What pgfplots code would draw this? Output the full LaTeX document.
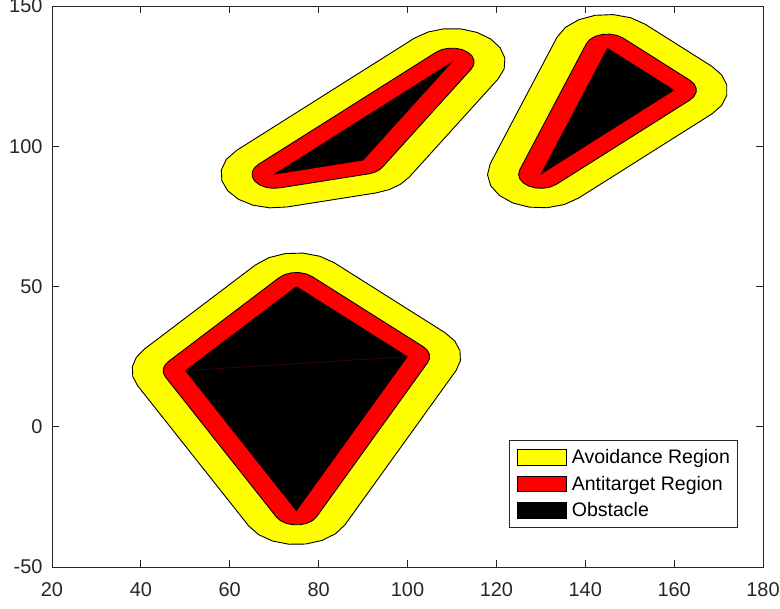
\documentclass[border=0pt]{standalone}
\usepackage{pgfplots}
\pgfplotsset{compat=1.18}
\usepackage{fontspec}
\setmainfont{Liberation Sans}
\definecolor{axisgray}{RGB}{38,38,38}
\definecolor{seamred}{RGB}{110,0,0}
\definecolor{avoidyellow}{RGB}{255,255,0}
\definecolor{antired}{RGB}{255,0,0}

\begin{document}
\begin{tikzpicture}
\begin{axis}[
  name=ax,
  scale only axis,
  width=711bp, height=561bp,
  xmin=20, xmax=180, ymin=-50, ymax=150,
  xtick={20,40,60,80,100,120,140,160,180},
  ytick={-50,0,50,100,150},
  xticklabels={20,40,60,80,100,120,140,160,180},
  yticklabels={-50,0,50,100,150},
  tick align=inside,
  xtick pos=both, ytick pos=both,
  major tick length=7bp,
  axis line style={axisgray, line width=0.8bp},
  every tick/.style={axisgray, line width=0.8bp},
  tick label style={font=\fontsize{20}{23}\selectfont, text=axisgray},
  xticklabel style={yshift=-12.5bp},
  yticklabel style={xshift=-6bp},
  legend image code/.code={\draw[#1] (0bp,-8bp) rectangle (49bp,7.7bp);},
  legend cell align=left,
  legend style={
    at={(0.6428,0.2264)}, anchor=north west,
    draw=axisgray, line width=0.8bp, fill=white,
    font=\fontsize{19.6}{22}\selectfont, text=black,
    inner xsep=7.5bp, inner ysep=8.7bp,
    row sep=10bp, column sep=5bp,
    nodes={inner sep=0bp},
  },
]
% lower obstacle: avoidance band (offset 12), antitarget band (offset 5), core
\addplot[fill=avoidyellow, draw=black, line width=0.9bp] coordinates {
  (110.92,20.03)(111.91,23.52)(111.81,27.14)(110.63,30.57)(108.49,33.49)
  (83.49,58.49)(80.25,60.79)(76.45,61.91)(72.48,61.73)(68.79,60.27)(65.78,57.68)
  (40.78,27.68)(38.97,24.73)(38.08,21.38)(38.18,17.92)(39.27,14.63)
  (64.27,-35.37)(66.51,-38.49)(69.63,-40.73)(73.30,-41.88)(77.14,-41.81)
  (80.77,-40.52)(83.79,-38.16)(85.92,-34.97)
} --cycle;
\addlegendentry{Avoidance Region}
\addplot[fill=antired, draw=black, line width=0.9bp] coordinates {
  (104.55,22.93)(104.96,24.38)(104.92,25.89)(104.43,27.32)(103.54,28.54)
  (78.54,53.54)(77.19,54.50)(75.60,54.96)(73.95,54.89)(72.41,54.28)(71.16,53.20)
  (46.16,23.20)(45.41,21.97)(45.03,20.58)(45.08,19.13)(45.53,17.76)
  (70.53,-32.24)(71.46,-33.54)(72.76,-34.47)(74.29,-34.95)(75.89,-34.92)
  (77.40,-34.39)(78.66,-33.40)(79.55,-32.07)
} --cycle;
\addlegendentry{Antitarget Region}
\addplot[fill=black, draw=black, line width=0.3bp] coordinates {
  (75,-30)(100,25)(75,50)(50,20)
} --cycle;
\addlegendentry{Obstacle}
\addplot[forget plot, draw=seamred, line width=0.4bp] coordinates {(50,20)(100,25)};

% upper-left obstacle
\addplot[forget plot, fill=avoidyellow, draw=black, line width=0.9bp] coordinates {
  (92.91,83.36)(95.90,84.55)(98.46,86.49)(100.42,89.05)
  (120.42,124.05)(121.76,127.62)(121.91,131.44)(120.86,135.10)(118.71,138.26)
  (115.67,140.57)(112.07,141.82)(108.25,141.87)(104.61,140.72)(101.51,138.49)
  (61.51,98.49)(59.25,95.33)(58.11,91.62)(58.22,87.73)(59.56,84.09)
  (61.99,81.06)(65.27,78.97)(69.04,78.04)(72.91,78.36)
} --cycle;
\addplot[forget plot, fill=antired, draw=black, line width=0.9bp] coordinates {
  (91.21,90.15)(92.46,90.65)(93.53,91.46)(94.34,92.52)
  (114.34,127.52)(114.90,129.01)(114.96,130.60)(114.53,132.13)(113.63,133.44)
  (112.36,134.41)(110.86,134.93)(109.27,134.95)(107.75,134.47)(106.46,133.54)
  (66.46,93.54)(65.52,92.22)(65.05,90.67)(65.09,89.06)(65.65,87.54)
  (66.66,86.28)(68.03,85.41)(69.60,85.02)(71.21,85.15)
} --cycle;
\addplot[forget plot, fill=black, draw=black, line width=0.3bp] coordinates {
  (70,90)(90,95)(110,130)
} --cycle;

% upper-right obstacle
\addplot[forget plot, fill=avoidyellow, draw=black, line width=0.9bp] coordinates {
  (168.49,111.51)(170.69,114.55)(171.85,118.12)(171.85,121.88)(170.69,125.45)(168.49,128.49)
  (153.49,143.49)(150.18,145.83)(146.28,146.93)(142.24,146.68)(138.52,145.10)
  (135.52,142.36)(133.62,138.79)
  (118.62,93.79)(118.00,89.84)(118.72,85.91)(120.69,82.43)(123.69,79.79)
  (127.39,78.29)(131.39,78.08)(135.23,79.20)(138.49,81.51)
} --cycle;
\addplot[forget plot, fill=antired, draw=black, line width=0.9bp] coordinates {
  (163.54,116.46)(164.46,117.73)(164.94,119.22)(164.94,120.78)(164.46,122.27)(163.54,123.54)
  (148.54,138.54)(147.16,139.51)(145.54,139.97)(143.85,139.87)(142.30,139.21)
  (141.05,138.07)(140.26,136.58)
  (125.26,91.58)(125.00,89.93)(125.30,88.30)(126.12,86.85)(127.37,85.75)
  (128.91,85.12)(130.58,85.03)(132.18,85.50)(133.54,86.46)
} --cycle;
\addplot[forget plot, fill=black, draw=black, line width=0.3bp] coordinates {
  (130,90)(160,120)(145,135)
} --cycle;
\end{axis}
\pgfresetboundingbox
\path[use as bounding box] ([shift={(-52bp,-42bp)}]ax.south west) rectangle ([shift={(17bp,6bp)}]ax.north east);
\end{tikzpicture}
\end{document}
